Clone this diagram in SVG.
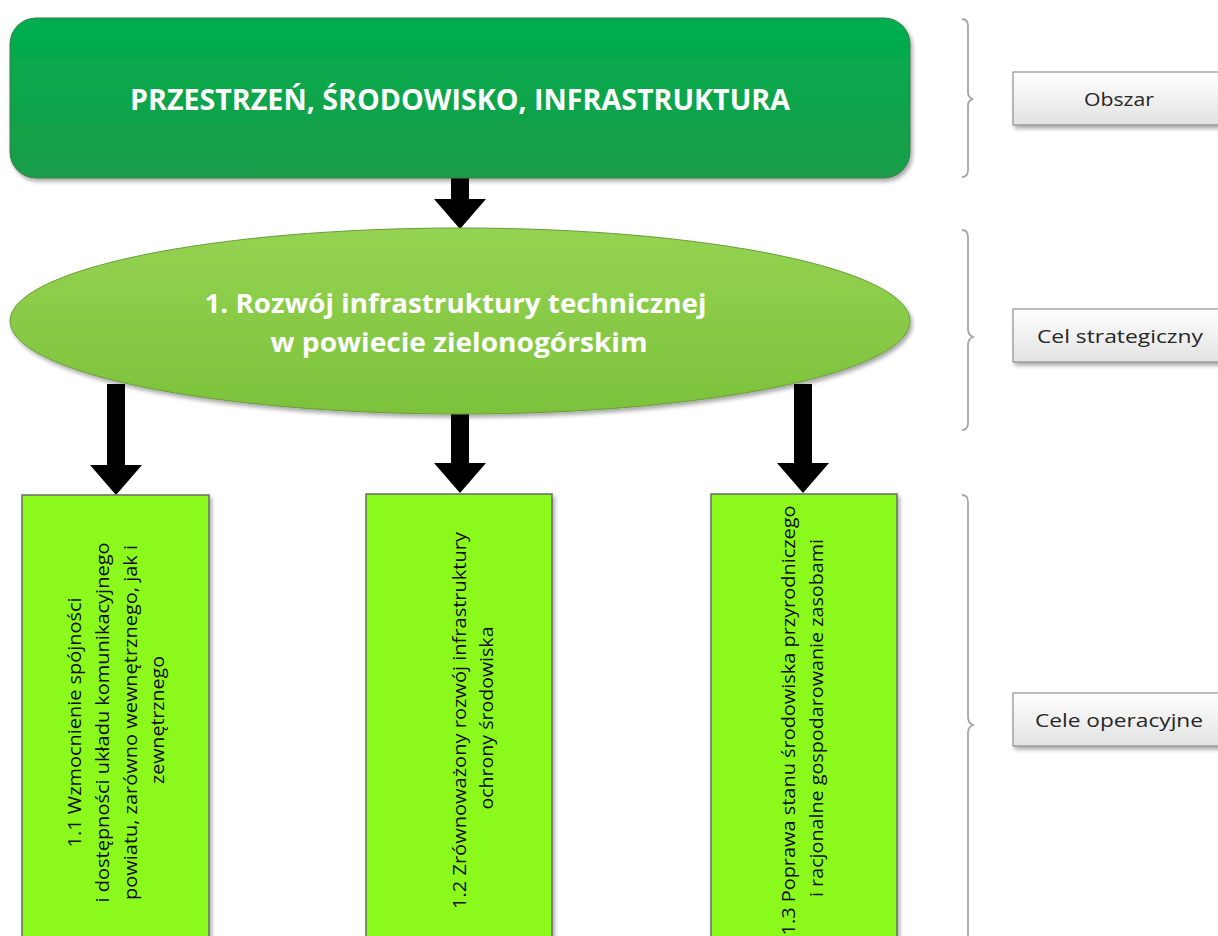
<svg xmlns="http://www.w3.org/2000/svg" width="1218" height="936" viewBox="0 0 1218 936">
<style>
.title{font-family:"Open Sans","Liberation Sans",sans-serif;font-weight:bold;fill:#ffffff}
.goal{font-family:"Open Sans","Liberation Sans",sans-serif;font-size:19px;fill:#0d0d0d}
.lbl{font-family:"Open Sans","Liberation Sans",sans-serif;font-size:19px;fill:#262626}
.brace{fill:none;stroke:#a6a6a6;stroke-width:1.8}
.op{fill:#8cf91f;stroke:#6b6b6b;stroke-width:1.5}
.lb{fill:url(#gLbl);stroke:#7f7f7f;stroke-width:1}
</style>
<defs>
<linearGradient id="gTop" x1="0" y1="0" x2="0" y2="1">
<stop offset="0" stop-color="#00ae4f"/>
<stop offset="1" stop-color="#1b9c48"/>
</linearGradient>
<linearGradient id="gEll" x1="0" y1="0" x2="0" y2="1">
<stop offset="0" stop-color="#95d352"/>
<stop offset="1" stop-color="#7cc23b"/>
</linearGradient>
<linearGradient id="gLbl" x1="0" y1="0" x2="0" y2="1">
<stop offset="0" stop-color="#ffffff"/>
<stop offset="1" stop-color="#e2e2e2"/>
</linearGradient>
<filter id="sh" x="-5%" y="-5%" width="115%" height="120%">
<feGaussianBlur in="SourceAlpha" stdDeviation="2"/>
<feOffset dx="2" dy="3" result="b"/>
<feComponentTransfer><feFuncA type="linear" slope="0.35"/></feComponentTransfer>
<feMerge><feMergeNode/><feMergeNode in="SourceGraphic"/></feMerge>
</filter>
</defs>
<rect width="1218" height="936" fill="#ffffff"/>

<g id="connectors" fill="#000000">
<path d="M451,178 H469 V199 H486 L460,229 L434,199 H451 Z"/>
<path d="M107,384 H125 V465 H142 L116,495 L90,465 H107 Z"/>
<path d="M451,412 H469 V463 H486 L460,493 L434,463 H451 Z"/>
<path d="M794,384 H812 V463 H829 L803,493 L777,463 H794 Z"/>
</g>

<g id="area">
<rect x="10" y="18" width="900" height="160" rx="26" ry="26" fill="url(#gTop)" stroke="#3d7a4a" stroke-width="1" filter="url(#sh)"/>
<text class="title" x="460" y="110" font-size="28" text-anchor="middle" textLength="660" lengthAdjust="spacingAndGlyphs">PRZESTRZEŃ, ŚRODOWISKO, INFRASTRUKTURA</text>
</g>

<g id="strategic">
<ellipse cx="460" cy="321" rx="450" ry="93" fill="url(#gEll)" stroke="#6a9c3a" stroke-width="1" filter="url(#sh)"/>
<text class="title" font-size="27" text-anchor="middle">
<tspan x="459" y="313" textLength="502" lengthAdjust="spacingAndGlyphs">1. Rozwój infrastruktury technicznej</tspan>
<tspan x="459" y="352" textLength="377" lengthAdjust="spacingAndGlyphs">w powiecie zielonogórskim</tspan>
</text>
</g>

<g id="op1">
<rect class="op" x="22" y="495" width="187" height="460" filter="url(#sh)"/>
<text class="goal" transform="translate(115.5,720) rotate(-90)" text-anchor="middle">
<tspan x="0" y="-35" textLength="250" lengthAdjust="spacingAndGlyphs">1.1 Wzmocnienie spójności</tspan>
<tspan x="0" y="-7" textLength="360" lengthAdjust="spacingAndGlyphs">i dostępności układu komunikacyjnego</tspan>
<tspan x="0" y="21" textLength="355" lengthAdjust="spacingAndGlyphs">powiatu, zarówno wewnętrznego, jak i</tspan>
<tspan x="0" y="48" textLength="128" lengthAdjust="spacingAndGlyphs">zewnętrznego</tspan>
</text>
</g>

<g id="op2">
<rect class="op" x="366" y="494" width="186" height="460" filter="url(#sh)"/>
<text class="goal" transform="translate(459,718) rotate(-90)" text-anchor="middle">
<tspan x="0" y="7" textLength="377" lengthAdjust="spacingAndGlyphs">1.2 Zrównoważony rozwój infrastruktury</tspan>
<tspan x="0" y="34" textLength="183" lengthAdjust="spacingAndGlyphs">ochrony środowiska</tspan>
</text>
</g>

<g id="op3">
<rect class="op" x="711" y="494" width="186" height="460" filter="url(#sh)"/>
<text class="goal" transform="translate(804,718) rotate(-90)" text-anchor="middle">
<tspan x="0" y="-9" textLength="430" lengthAdjust="spacingAndGlyphs">1.3 Poprawa stanu środowiska przyrodniczego</tspan>
<tspan x="0" y="19" textLength="358" lengthAdjust="spacingAndGlyphs">i racjonalne gospodarowanie zasobami</tspan>
</text>
</g>

<g id="brace-area">
<path class="brace" d="M962,19 Q968,19 968,26 V92 Q968,98 973,99 Q968,100 968,106 V170 Q968,177 962,177"/>
</g>
<g id="brace-strategic">
<path class="brace" d="M962,230 Q968,230 968,237 V329 Q968,335 973,337 Q968,339 968,345 V423 Q968,430 962,430"/>
</g>
<g id="brace-operational">
<path class="brace" d="M962,495 Q968,495 968,502 V717 Q968,723 973,725 Q968,727 968,733 V940"/>
</g>

<g id="label-area">
<rect class="lb" x="1013" y="72" width="220" height="53" filter="url(#sh)"/>
<text class="lbl" x="1119" y="106" text-anchor="middle" textLength="70" lengthAdjust="spacingAndGlyphs">Obszar</text>
</g>
<g id="label-strategic">
<rect class="lb" x="1013" y="309" width="220" height="53" filter="url(#sh)"/>
<text class="lbl" x="1120" y="343" text-anchor="middle" textLength="166" lengthAdjust="spacingAndGlyphs">Cel strategiczny</text>
</g>
<g id="label-operational">
<rect class="lb" x="1013" y="693" width="220" height="53" filter="url(#sh)"/>
<text class="lbl" x="1119" y="727" text-anchor="middle" textLength="168" lengthAdjust="spacingAndGlyphs">Cele operacyjne</text>
</g>
</svg>
